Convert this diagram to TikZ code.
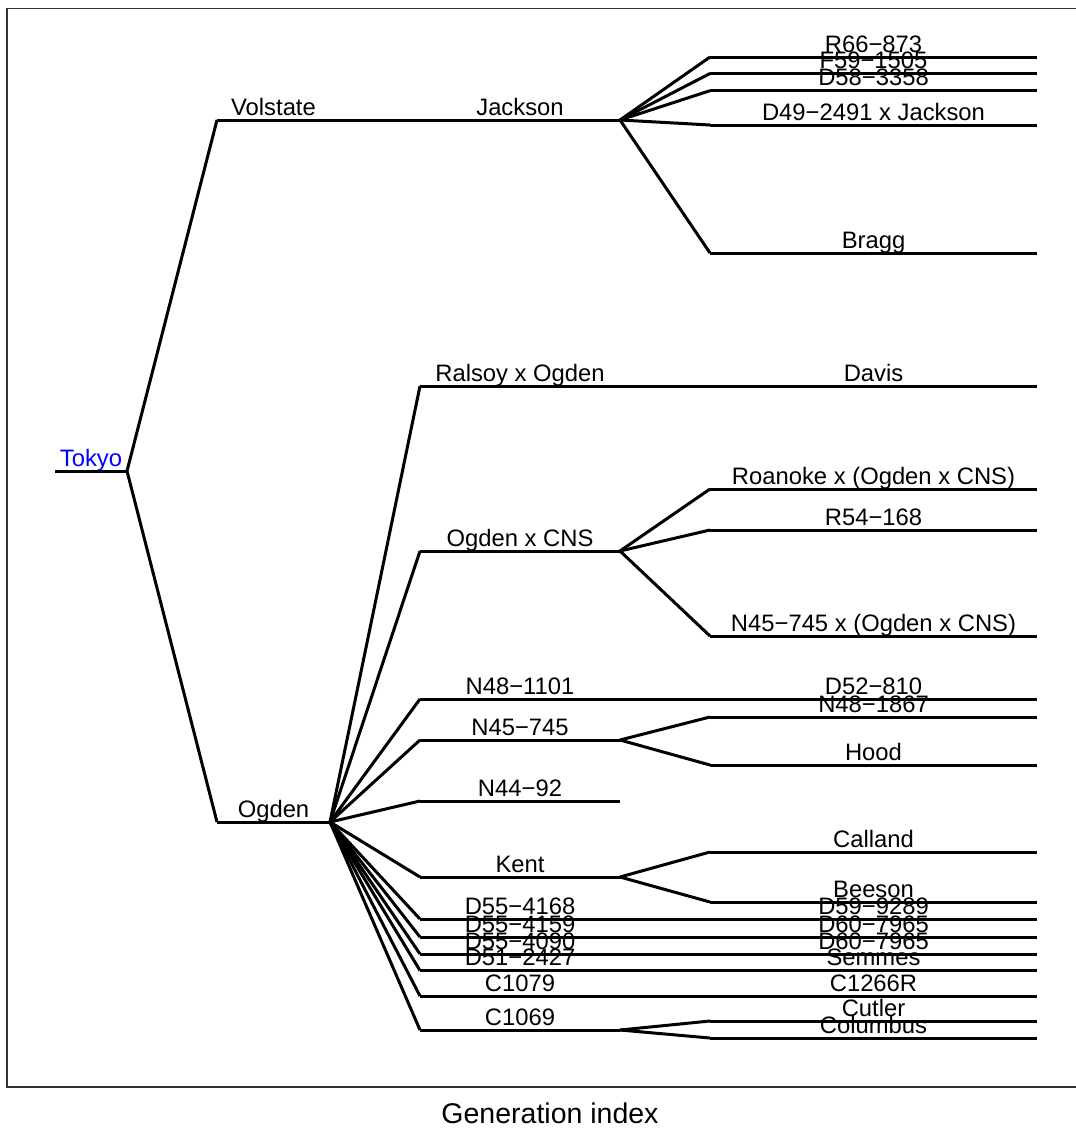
\documentclass[tikz,border=0pt]{standalone}
\usepackage{fontspec}
\setmainfont{Liberation Sans}
\begin{document}
\begin{tikzpicture}[x=1pt,y=-1pt,
  tree/.style={line width=3pt,black,line cap=butt,line join=round},
  lab/.style={anchor=base,inner sep=0pt,font=\fontsize{23.8}{28}\selectfont},
  frame/.style={line width=1.4pt,draw={rgb,255:red,50;green,50;blue,50}}]
\useasboundingbox (0,0) rectangle (1076,1135);
\fill[white] (0,0) rectangle (1076,1135);
\draw[frame] (1076,8.5) -- (7,8.5) -- (7,1087) -- (1076,1087);
\newcommand\gnd[5]{%
  \coordinate (#1s) at (#2,#4);
  \coordinate (#1e) at (#3,#4);
  \node[lab] (#1) at ({(#2+#3)/2},#4-5) {#5};
  \draw[tree] (#1s) -- (#1e);}
% generation 0
\coordinate (toks) at (55,471);
\coordinate (toke) at (127,471);
\node[lab,text={rgb,255:red,0;green,0;blue,255}] (tok) at (91,466) {Tokyo};
\draw[tree] (toks) -- (toke);
% generation 1
\gnd{vol}{217}{330}{120}{Volstate}
\gnd{ogd}{217}{330}{822}{Ogden}
% generation 2
\gnd{jac}{420}{620}{120}{Jackson}
\gnd{ral}{420}{620}{386}{Ralsoy x Ogden}
\gnd{ocn}{420}{620}{551}{Ogden x CNS}
\gnd{nA}{420}{620}{699}{N48−1101}
\gnd{nB}{420}{620}{740}{N45−745}
\gnd{nC}{420}{620}{801}{N44−92}
\gnd{ken}{420}{620}{877}{Kent}
\gnd{dA}{420}{620}{919}{D55−4168}
\gnd{dB}{420}{620}{937}{D55−4159}
\gnd{dC}{420}{620}{954}{D55−4090}
\gnd{dD}{420}{620}{970.5}{D51−2427}
\gnd{cA}{420}{620}{996}{C1079}
\gnd{cB}{420}{620}{1030}{C1069}
% generation 3
\gnd{rsix}{710}{1037}{57}{R66−873}
\gnd{ffive}{710}{1037}{73.5}{F59−1505}
\gnd{dfive}{710}{1037}{90.7}{D58−3358}
\gnd{dfour}{710}{1037}{125}{D49−2491 x Jackson}
\gnd{bra}{710}{1037}{253}{Bragg}
\gnd{dav}{710}{1037}{386}{Davis}
\gnd{roa}{710}{1037}{489}{Roanoke x (Ogden x CNS)}
\gnd{rfive}{710}{1037}{530}{R54−168}
\gnd{nx}{710}{1037}{636}{N45−745 x (Ogden x CNS)}
\gnd{dfitwo}{710}{1037}{699}{D52−810}
\gnd{neight}{710}{1037}{717}{N48−1867}
\gnd{hoo}{710}{1037}{765}{Hood}
\gnd{cal}{710}{1037}{852}{Calland}
\gnd{bee}{710}{1037}{902}{Beeson}
\gnd{dnine}{710}{1037}{919}{D59−9289}
\gnd{dsixa}{710}{1037}{937}{D60−7965}
\gnd{dsixb}{710}{1037}{954}{D60−7965}
\gnd{sem}{710}{1037}{970.5}{Semmes}
\gnd{ctwo}{710}{1037}{996}{C1266R}
\gnd{cut}{710}{1037}{1021}{Cutler}
\gnd{col}{710}{1037}{1038}{Columbus}
% connectors
\foreach \p/\c in {tok/vol,tok/ogd,vol/jac,
  ogd/ral,ogd/ocn,ogd/nA,ogd/nB,ogd/nC,ogd/ken,ogd/dA,ogd/dB,ogd/dC,ogd/dD,ogd/cA,ogd/cB,
  jac/rsix,jac/ffive,jac/dfive,jac/dfour,jac/bra,ral/dav,
  ocn/roa,ocn/rfive,ocn/nx,nA/dfitwo,nB/neight,nB/hoo,ken/cal,ken/bee,
  dA/dnine,dB/dsixa,dC/dsixb,dD/sem,cA/ctwo,cB/cut,cB/col}
  \draw[tree] (\p e) -- (\c s);
\node[lab,font=\fontsize{28.5}{34}\selectfont] (xlab) at (550,1123) {Generation index};
\end{tikzpicture}
\end{document}
